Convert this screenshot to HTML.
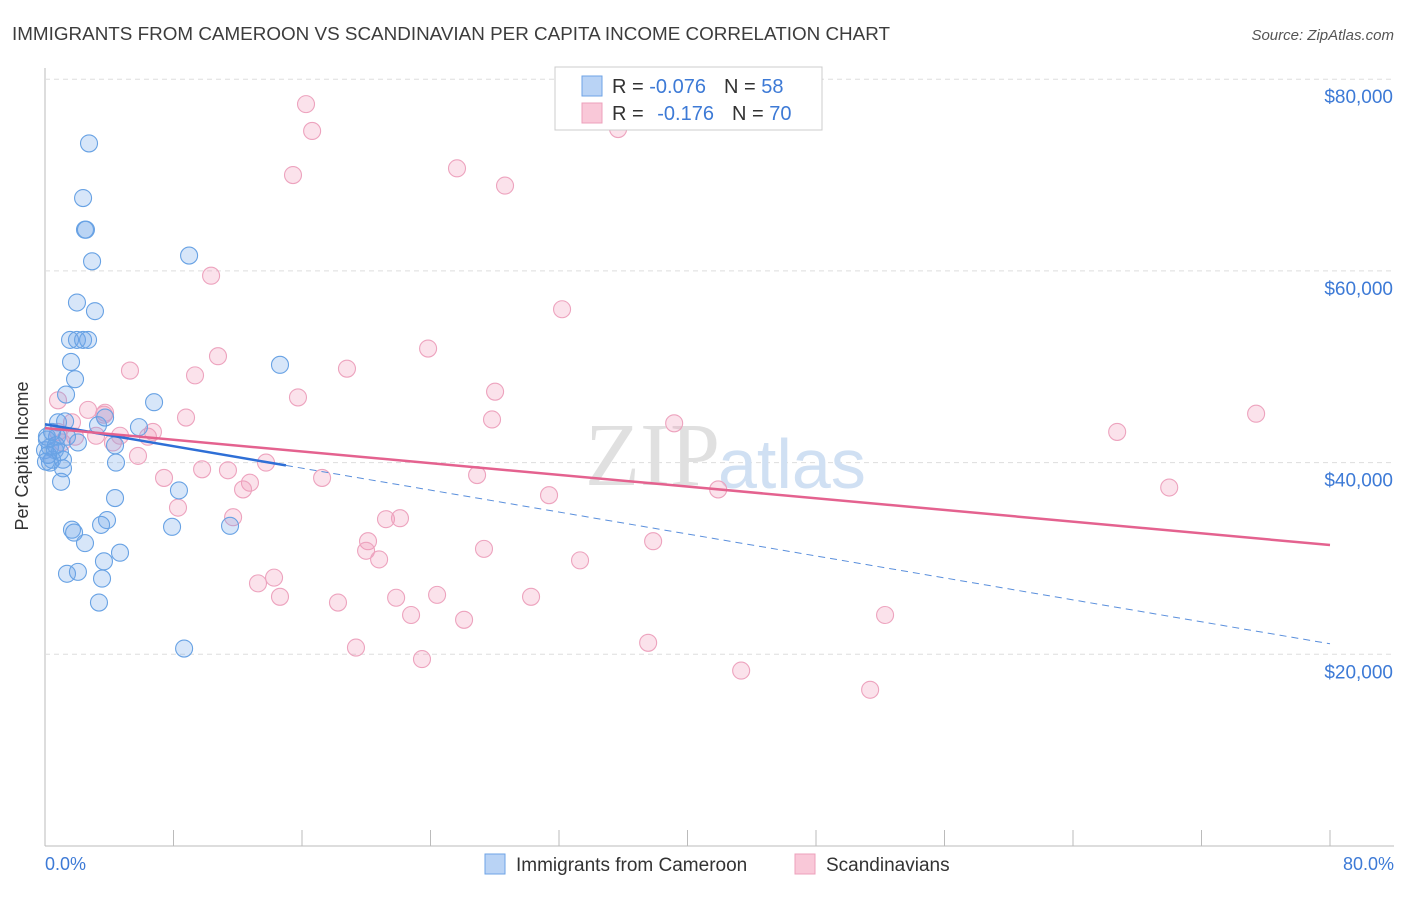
<!DOCTYPE html>
<html><head><meta charset="utf-8"><style>
body{margin:0;background:#fff;font-family:"Liberation Sans",sans-serif;}
</style></head><body>
<svg width="1406" height="892" xmlns="http://www.w3.org/2000/svg">
<text x="12" y="40" font-size="18" fill="#3c3c3c" textLength="878" lengthAdjust="spacingAndGlyphs">IMMIGRANTS FROM CAMEROON VS SCANDINAVIAN PER CAPITA INCOME CORRELATION CHART</text>
<text x="1394" y="40" font-size="15" fill="#555" font-style="italic" text-anchor="end">Source: ZipAtlas.com</text>
<g id="grid"></g>
<text x="720" y="485" font-size="90" fill="#e0e0e0" text-anchor="end" font-family="Liberation Serif">ZIP</text>
<text x="718" y="488" font-size="70" fill="#d0e0f3">atlas</text>
<g id="pts"></g>
<g id="lines"></g>
<text x="28" y="456" font-size="18" fill="#333" text-anchor="middle" transform="rotate(-90 28 456)">Per Capita Income</text>
<text x="45" y="870" font-size="18" fill="#3d7ad6">0.0%</text>
<text x="1394" y="870" font-size="18" fill="#3d7ad6" text-anchor="end">80.0%</text>
<g>
<rect x="555" y="67" width="267" height="63" fill="#fff" stroke="#ccc"/>
<rect x="582" y="76" width="20" height="20" fill="#b9d3f5" stroke="#6ea3e6"/>
<rect x="582" y="103" width="20" height="20" fill="#f9c8d8" stroke="#eda0bb"/>
<text x="612" y="93" font-size="20" fill="#333">R = <tspan fill="#3d7ad6">-0.076</tspan><tspan dx="18">N = </tspan><tspan fill="#3d7ad6">58</tspan></text>
<text x="612" y="120" font-size="20" fill="#333">R = <tspan dx="8" fill="#3d7ad6">-0.176</tspan><tspan dx="18">N = </tspan><tspan fill="#3d7ad6">70</tspan></text>
</g>
<g>
<rect x="485" y="854" width="20" height="20" fill="#b9d3f5" stroke="#6ea3e6"/>
<text x="516" y="871" font-size="19" fill="#333">Immigrants from Cameroon</text>
<rect x="795" y="854" width="20" height="20" fill="#f9c8d8" stroke="#eda0bb"/>
<text x="826" y="871" font-size="19" fill="#333">Scandinavians</text>
</g>
</svg>
<script>
const yTicks=[20000,40000,60000,80000];
const yTickLabels=["$20,000","$40,000","$60,000","$80,000"];
const blueX=[2.74,2.37,2.49,2.55,2.93,8.97,1.99,3.11,1.56,1.99,2.37,2.68,1.62,1.87,1.31,14.63,6.79,0.81,1.25,0.75,1.37,5.85,3.30,3.74,4.36,0,0.31,0.62,0.93,0.44,1.12,2.05,0.31,4.42,1.12,1.0,8.34,4.36,3.86,3.49,1.68,1.81,7.91,11.52,2.49,4.67,3.67,1.37,2.05,3.55,3.36,8.66,0.12,0.12,0.44,0.68,0.19,0.06];
const blueY=[73.3,67.6,64.3,64.3,61.0,61.6,56.7,55.8,52.8,52.8,52.8,52.8,50.5,48.7,47.1,50.2,46.3,44.2,44.3,42.7,42.7,43.7,43.9,44.7,41.8,41.3,41.6,41.3,41.1,40.3,40.3,42.1,40.0,40.0,39.4,38.0,37.1,36.3,34.0,33.5,33.0,32.7,33.3,33.4,31.6,30.6,29.7,28.4,28.6,27.9,25.4,20.6,42.7,42.4,43.2,41.8,40.8,40.1];
const pinkX=[16.25,16.63,35.68,15.44,25.65,28.64,10.34,32.19,23.85,10.77,18.80,5.29,9.34,28.02,15.75,0.81,2.68,3.67,1.68,8.78,27.83,39.17,75.40,66.75,3.18,6.41,4.23,4.67,6.72,0.81,13.76,5.79,9.78,11.39,7.41,12.76,12.33,17.25,26.90,8.28,11.71,31.38,41.91,69.99,21.23,22.10,20.11,19.99,20.80,27.33,37.86,33.31,14.26,13.26,14.63,21.86,24.41,30.26,18.24,22.79,26.09,52.30,19.36,23.47,37.55,43.34,51.37,1.06,1.87,3.74];
const pinkY=[77.4,74.6,74.8,70.0,70.7,68.9,59.5,56.0,51.9,51.1,49.8,49.6,49.1,47.4,46.8,46.5,45.5,45.0,44.2,44.7,44.5,44.1,45.1,43.2,42.8,42.7,42.1,42.8,43.2,43.2,40.0,40.7,39.3,39.2,38.4,37.9,37.2,38.4,38.7,35.3,34.3,36.6,37.2,37.4,34.1,34.2,31.8,30.8,29.9,31.0,31.8,29.8,28.0,27.4,26.0,25.9,26.2,26.0,25.4,24.1,23.6,24.1,20.7,19.5,21.2,18.3,16.3,42.1,42.7,45.2];
const blueTrend=[44.0,21.1]; // income (k) at 0% and 80%
const pinkTrend=[43.6,31.4];
const NS="http://www.w3.org/2000/svg";
const xs=v=>45+v*(1285/80);
const ys=v=>846-v*9.585; // v in thousands
function mk(t,a,p){const e=document.createElementNS(NS,t);for(const k in a)e.setAttribute(k,a[k]);p.appendChild(e);return e;}
const grid=document.getElementById('grid');
const ax=mk('line',{x1:45,y1:68,x2:45,y2:846,stroke:'#bbb'},grid);


const bx=mk('line',{x1:45,y1:846,x2:1394,y2:846,stroke:'#bbb'},grid);


for(let i=0;i<=10;i++){const t=mk('line',{x1:xs(i*8),y1:830,x2:xs(i*8),y2:846,stroke:'#bbb'},grid);

}
yTicks.forEach((v,i)=>{const y=ys(v/1000);
const g=mk('line',{x1:45,y1:y,x2:1394,y2:y,stroke:'#ddd','stroke-dasharray':'5,4'},grid);


const t=mk('text',{x:1393,y:y+24,'font-size':19,fill:'#3d7ad6','text-anchor':'end'},grid);t.textContent=yTickLabels[i];

});
const pts=document.getElementById('pts');
pinkX.forEach((x,i)=>{const c=mk('circle',{cx:xs(x),cy:ys(pinkY[i]),r:8.5,fill:'rgba(242,150,182,0.28)',stroke:'#eda3be','stroke-width':1.1},pts);

});
blueX.forEach((x,i)=>{const c=mk('circle',{cx:xs(x),cy:ys(blueY[i]),r:8.5,fill:'rgba(110,165,235,0.28)',stroke:'#68a2e4','stroke-width':1.1},pts);

});
const L=document.getElementById('lines');
const bAt=x=>blueTrend[0]+(blueTrend[1]-blueTrend[0])*x/80;
const l1=mk('line',{x1:xs(0),y1:ys(bAt(0)),x2:xs(15),y2:ys(bAt(15)),stroke:'#2e6fd6','stroke-width':2.5},L);


const l2=mk('line',{x1:xs(15),y1:ys(bAt(15)),x2:xs(80),y2:ys(bAt(80)),stroke:'#5a8fdc','stroke-width':1,'stroke-dasharray':'7,5'},L);


const l3=mk('line',{x1:xs(0),y1:ys(pinkTrend[0]),x2:xs(80),y2:ys(pinkTrend[1]),stroke:'#e4628f','stroke-width':2.5},L);


</script>
</body></html>
